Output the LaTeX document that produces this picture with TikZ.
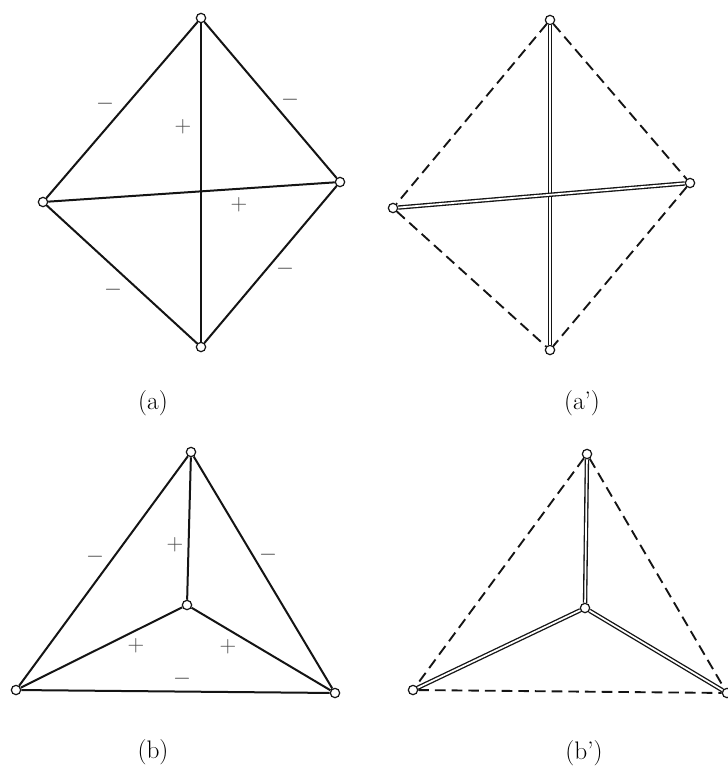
\documentclass[tikz,border=0pt]{standalone}
\usepackage{tikz}
\usetikzlibrary{arrows.meta}
\definecolor{Ink}{HTML}{141414}
\definecolor{SignGray}{HTML}{4A4A4A}
\tikzset{
  joint/.style={
    circle, draw=Ink, line width=0.9pt, fill=white,
    minimum size=7pt, inner sep=0pt
  },
  bar/.style={draw=Ink, line width=1.5pt},
  strut/.style={draw=Ink, line width=1pt, double=white, double distance=1.3pt},
  slack/.style={draw=Ink, line width=1.4pt, dash pattern=on 8pt off 4.5pt},
  sign/.style={text=SignGray, font=\fontsize{17}{17}\selectfont, inner sep=0pt},
  caption/.style={font=\fontsize{19}{22}\selectfont, inner sep=0pt}
}

\begin{document}
\begin{tikzpicture}[x=0.75pt,y=-0.75pt]
  \useasboundingbox[fill=white] (0,0) rectangle (728,771);
  % (a) square frame, all bars
  \node[joint] (at) at (201,18) {};  \node[joint] (al) at (43,202) {};
  \node[joint] (ar) at (340,182) {}; \node[joint] (ab) at (201,347) {};
  \draw[bar] (at)--(al); \draw[bar] (at)--(ar);
  \draw[bar] (al)--(ab); \draw[bar] (ar)--(ab);
  \draw[bar] (at)--(ab); \draw[bar] (al)--(ar);
  \node[sign] (s1) at (105,104) {$-$}; \node[sign] (s2) at (183,127) {$+$};
  \node[sign] (s3) at (290,100) {$-$}; \node[sign] (s4) at (239,205) {$+$};
  \node[sign] (s5) at (285,269) {$-$}; \node[sign] (s6) at (113,290) {$-$};
  \node[caption] (ca) at (153,403) {(a)};
  % (a') cables and struts
  \node[joint] (pt) at (550,20) {};  \node[joint] (pl) at (393,208) {};
  \node[joint] (pr) at (690,183) {}; \node[joint] (pb) at (550,350) {};
  \draw[slack] (pt)--(pl); \draw[slack] (pt)--(pr);
  \draw[slack] (pl)--(pb); \draw[slack] (pr)--(pb);
  \draw[strut] (pt)--(pb); \draw[strut] (pl)--(pr);
  \node[caption] (cap) at (582,403) {(a')};
  % (b) triangle with inner joint
  \node[joint] (bt) at (191,452) {}; \node[joint] (bc) at (187,605) {};
  \node[joint] (bl) at (16,690) {};  \node[joint] (br) at (335,693) {};
  \draw[bar] (bt)--(bl); \draw[bar] (bt)--(br); \draw[bar] (bl)--(br);
  \draw[bar] (bc)--(bt); \draw[bar] (bc)--(bl); \draw[bar] (bc)--(br);
  \node[sign] (t1) at (95,557) {$-$};  \node[sign] (t2) at (175,545) {$+$};
  \node[sign] (t3) at (268,555) {$-$}; \node[sign] (t4) at (136,646) {$+$};
  \node[sign] (t5) at (228,647) {$+$}; \node[sign] (t6) at (182,679) {$-$};
  \node[caption] (cb) at (153,752) {(b)};
  % (b') cables and struts
  \node[joint] (qt) at (587,454) {}; \node[joint] (qc) at (585,608) {};
  \node[joint] (ql) at (413,690) {}; \node[joint] (qr) at (727,693) {};
  \draw[slack] (qt)--(ql); \draw[slack] (qt)--(qr); \draw[slack] (ql)--(qr);
  \draw[strut] (qc)--(qt); \draw[strut] (qc)--(ql); \draw[strut] (qc)--(qr);
  \node[caption] (cbp) at (584,753) {(b')};
\end{tikzpicture}
\end{document}
